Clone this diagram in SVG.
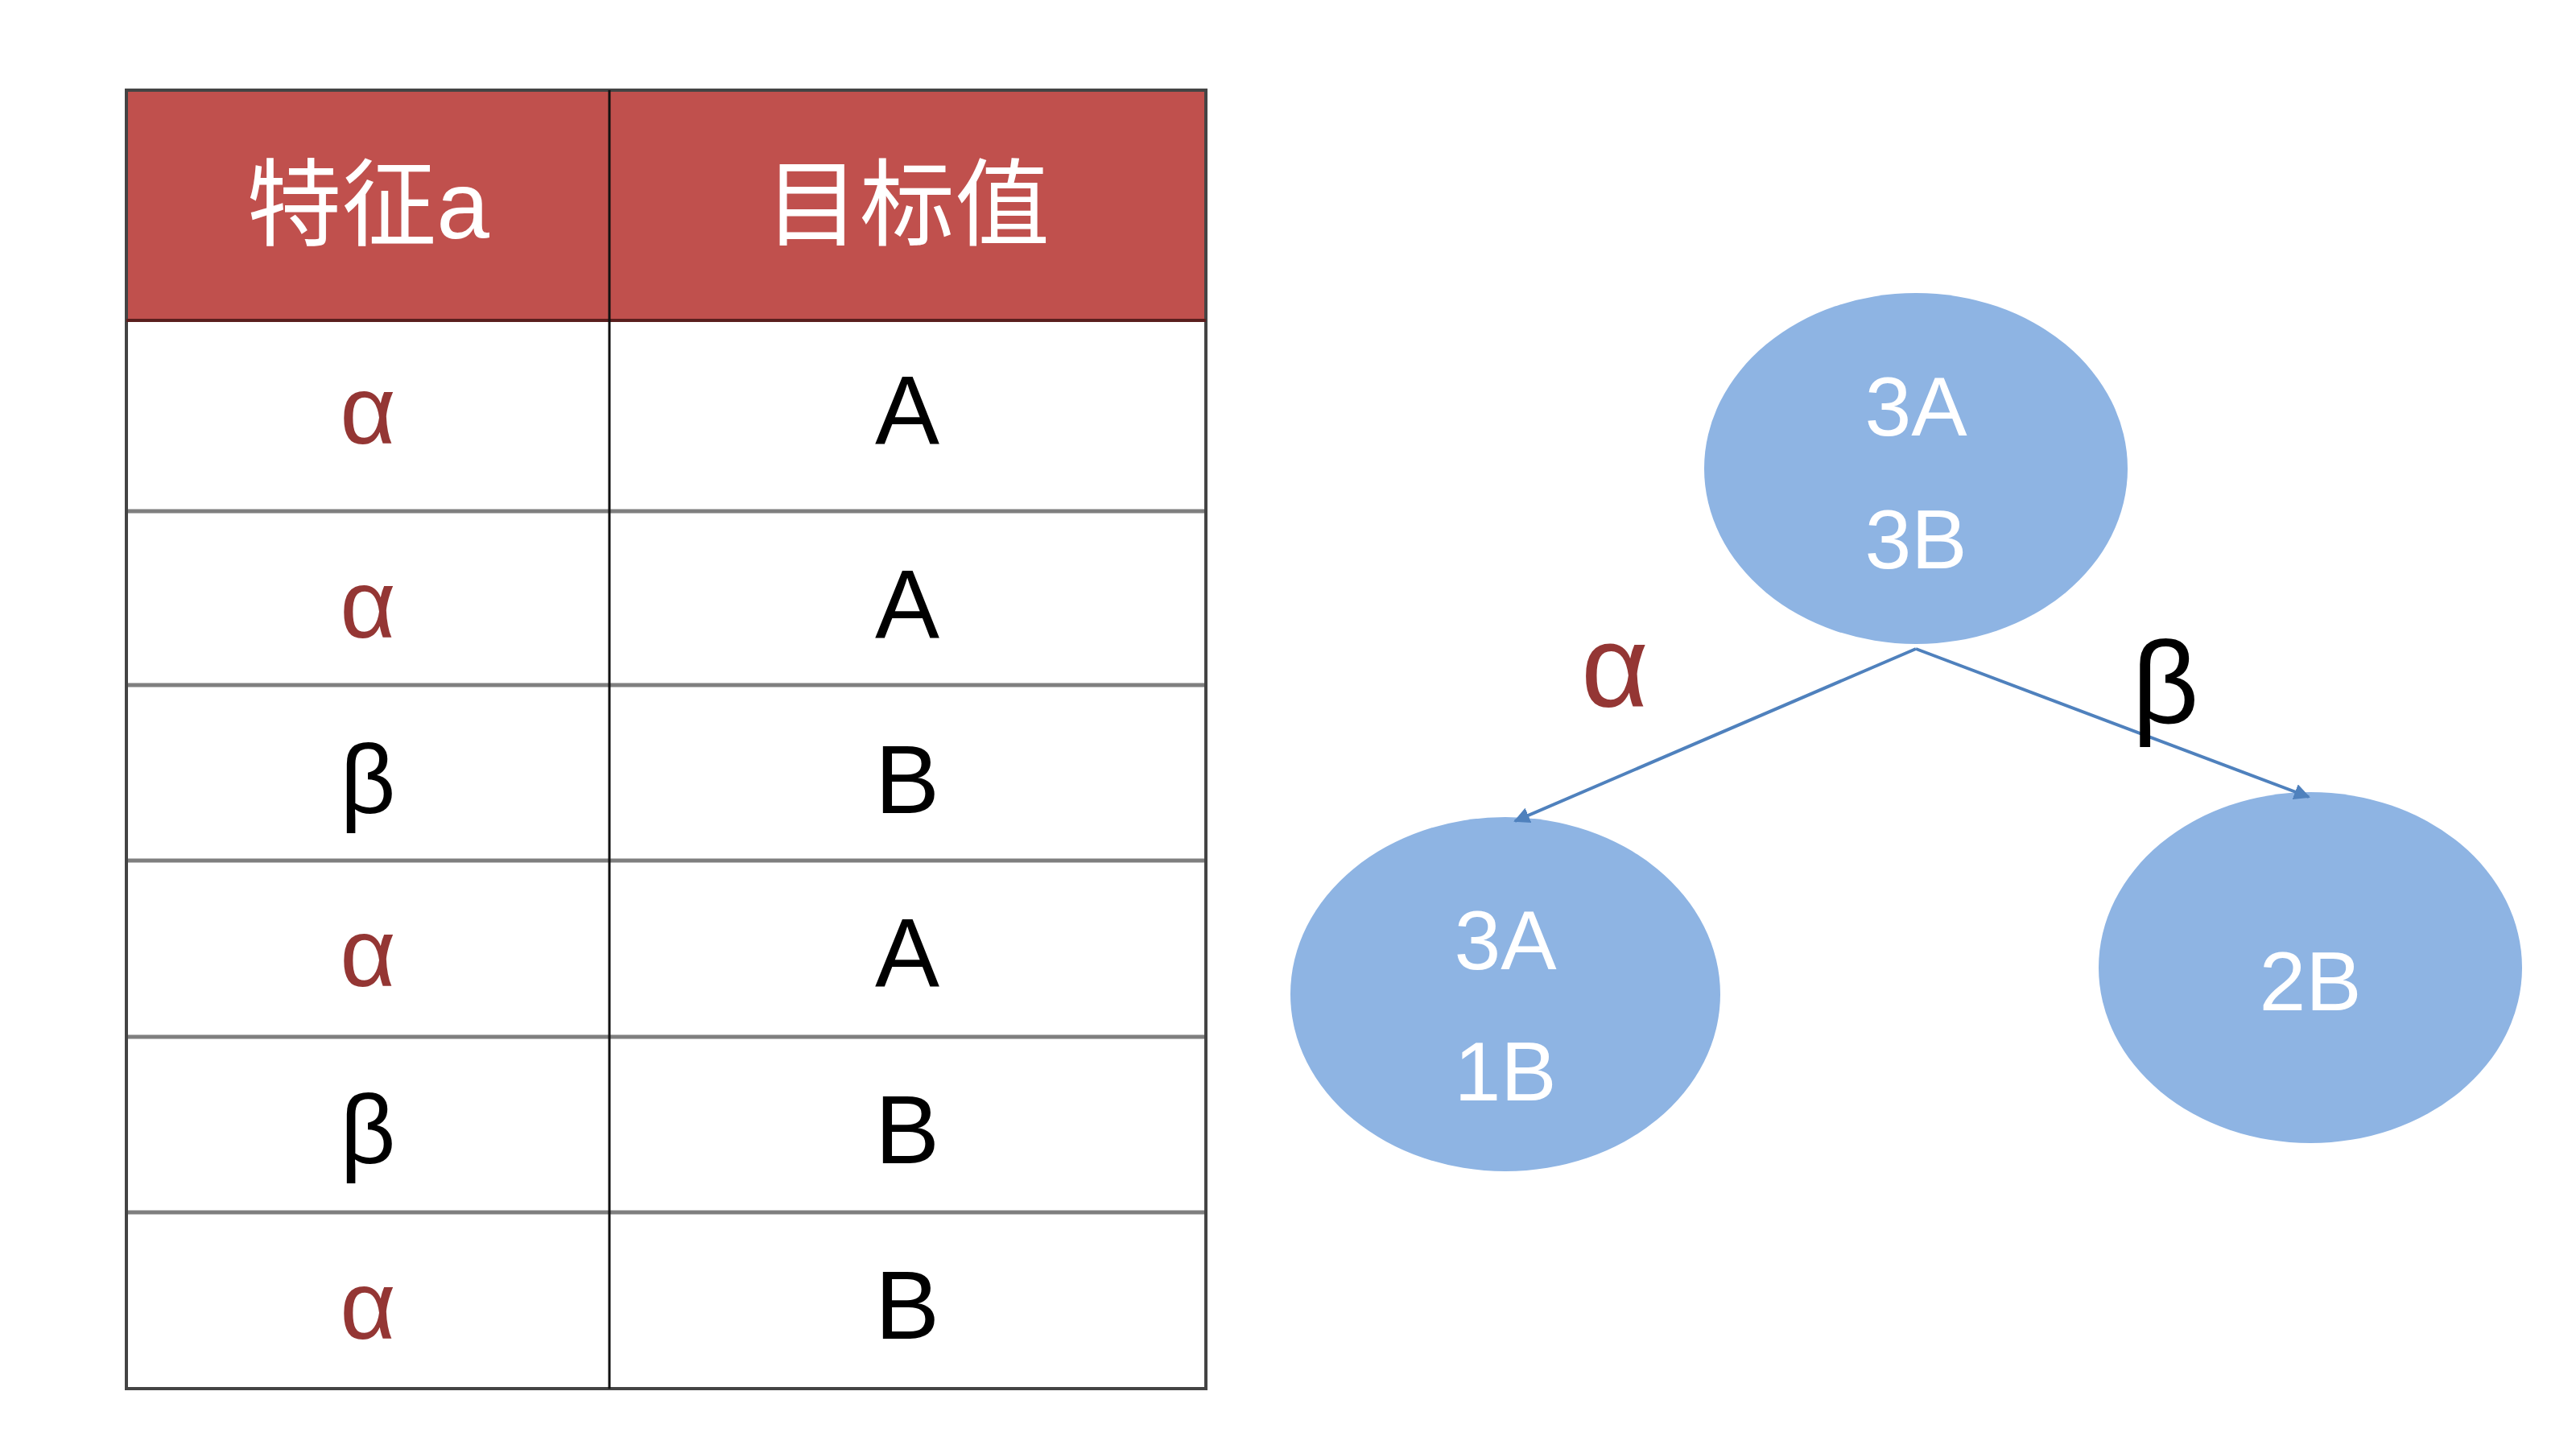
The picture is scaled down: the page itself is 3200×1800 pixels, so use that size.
<svg xmlns="http://www.w3.org/2000/svg" width="3200" height="1800" viewBox="0 0 3200 1800">
<style>
.t{font-family:"Liberation Sans","Noto Sans CJK SC",sans-serif;text-anchor:middle}
.h{fill:#fff;font-size:118px}
.c{font-size:120px}
.r{fill:#943634}
.k{fill:#000}
.n{fill:#fff;font-size:104px}
.e{fill:#8EB4E3}
.g{stroke:#7f7f7f;stroke-width:5}
</style>
<defs>
<marker id="ah" viewBox="0 0 10 10" refX="9" refY="5" markerWidth="5" markerHeight="5" orient="auto"><path d="M0,0L10,5L0,10z" fill="#4F81BD"/></marker>
</defs>
<rect width="3200" height="1800" fill="#fff"/>
<g id="table">
<rect x="157" y="112" width="1341" height="286" fill="#C0504D"/>
<g class="g">
<line x1="157" y1="635" x2="1498" y2="635"/>
<line x1="157" y1="851" x2="1498" y2="851"/>
<line x1="157" y1="1069" x2="1498" y2="1069"/>
<line x1="157" y1="1288" x2="1498" y2="1288"/>
<line x1="157" y1="1506" x2="1498" y2="1506"/>
</g>
<rect x="157" y="112" width="1341" height="1613" fill="none" stroke="#444" stroke-width="4"/>
<line x1="157" y1="398" x2="1498" y2="398" stroke="#5a1f1e" stroke-width="4"/>
<line x1="757" y1="112" x2="757" y2="1725" stroke="#111" stroke-width="3"/>
<text class="t h" x="457" y="296">特征a</text>
<text class="t h" x="1127" y="296">目标值</text>
<text class="t c r" x="457" y="551">α</text><text class="t c k" x="1127" y="551">A</text>
<text class="t c r" x="457" y="792">α</text><text class="t c k" x="1127" y="792">A</text>
<text class="t c k" x="457" y="1010">β</text><text class="t c k" x="1127" y="1010">B</text>
<text class="t c r" x="457" y="1225">α</text><text class="t c k" x="1127" y="1225">A</text>
<text class="t c k" x="457" y="1445">β</text><text class="t c k" x="1127" y="1445">B</text>
<text class="t c r" x="457" y="1663">α</text><text class="t c k" x="1127" y="1663">B</text>
</g>
<g id="root"><ellipse class="e" cx="2380" cy="582" rx="263" ry="218"/>
<text class="t n" x="2380" y="541">3A</text><text class="t n" x="2380" y="706">3B</text></g>
<g id="left"><ellipse class="e" cx="1870" cy="1235" rx="267" ry="220"/>
<text class="t n" x="1870" y="1204">3A</text><text class="t n" x="1870" y="1367">1B</text></g>
<g id="right"><ellipse class="e" cx="2870" cy="1202" rx="263" ry="218"/>
<text class="t n" x="2870" y="1255">2B</text></g>
<g id="connectors" stroke="#4F81BD" stroke-width="4" fill="none">
<line x1="2380" y1="806" x2="1882" y2="1020" marker-end="url(#ah)"/>
<line x1="2380" y1="806" x2="2868" y2="990" marker-end="url(#ah)"/>
</g>
<text class="t r" style="font-size:145px" x="2006" y="878">α</text>
<text class="t k" style="font-size:145px" x="2690" y="898">β</text>
</svg>
